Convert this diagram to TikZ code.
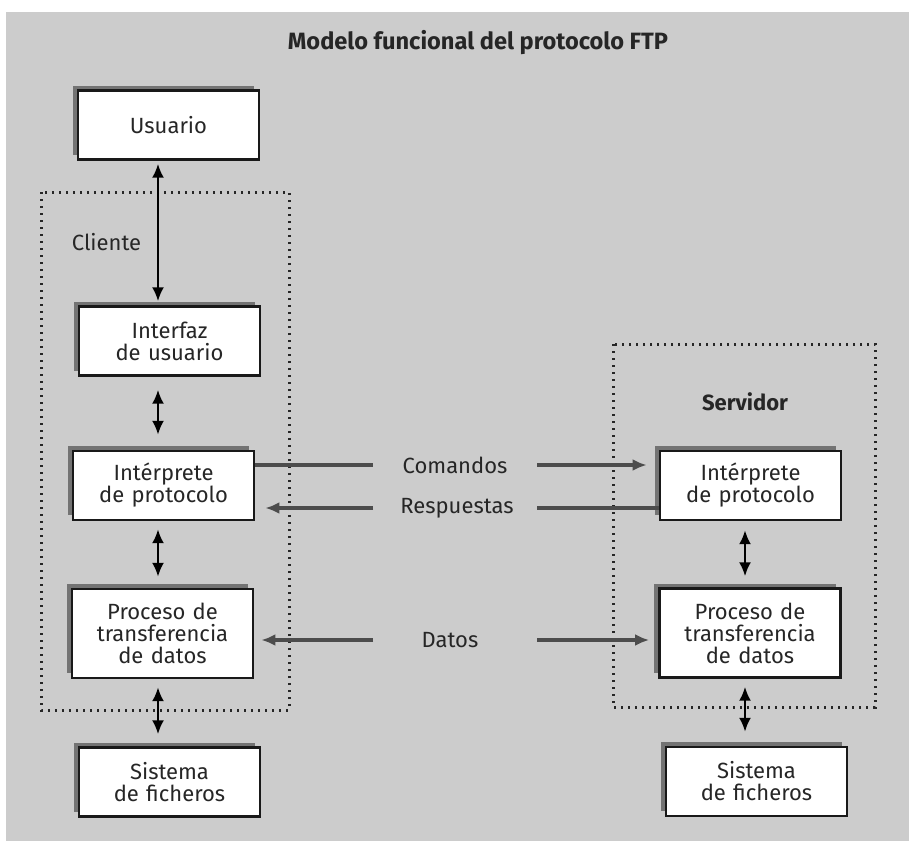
\documentclass[tikz,border=0pt]{standalone}
\usepackage{fontspec}
\setmainfont{Fira Sans}
\usetikzlibrary{arrows.meta, shadows}
\definecolor{bggray}{gray}{0.80}
\definecolor{inkgray}{gray}{0.15}
\definecolor{linkgray}{gray}{0.30}
\tikzset{
  box/.style={rectangle, draw=black!90, fill=white, line width=1.2pt,
              minimum width=90pt, minimum height=34.5pt, text width=84pt,
              align=center, font=\fontsize{11}{11}\selectfont, text=inkgray,
              drop shadow={shadow xshift=-2.5pt, shadow yshift=2.5pt,
                           fill=black!55, opacity=1}},
  tallbox/.style={box, minimum height=44.5pt},
  group/.style={draw=black!85, line width=1.5pt, dash pattern=on 1.2pt off 2.3pt},
  darrow/.style={{Latex[length=7pt,width=6pt]}-{Latex[length=7pt,width=6pt]},
                 draw=black, line width=1.2pt},
  link/.style={draw=linkgray, line width=1.6pt},
  tip/.style={-{Latex[length=7pt,width=6pt]}},
  label/.style={font=\fontsize{11}{12}\selectfont, text=inkgray, inner sep=0pt},
}

\begin{document}
\begin{tikzpicture}[x=0.5pt, y=-0.5pt]
  \useasboundingbox (0,0) rectangle (909,841);
  \fill[bggray] (6,12) rectangle (909,841);

  % Groups
  \draw[group] (41,192) rectangle (289,710);
  \draw[group] (613,344) rectangle (875,707);

  % Labels
  \node[label, font=\fontsize{11.8}{12}\bfseries] (title) at (478,43) {Modelo funcional del protocolo FTP};
  \node[label] (cliente) at (106.5,242) {Cliente};
  \node[label, font=\fontsize{11}{12}\bfseries] (servidor) at (745,402) {Servidor};

  % Nodes
  \node[box] (usuario) at (168.5,125) {Usuario};
  \node[box] (interfaz) at (169.5,341) {Interfaz\\de usuario};
  \node[box] (interpC) at (163.5,485.5) {Intérprete\\de protocolo};
  \node[tallbox] (procC) at (162.5,633.5) {Proceso de\\transferencia\\de datos};
  \node[box] (sistC) at (169.5,782) {Sistema\\de ficheros};

  \node[box] (interpS) at (750.5,485.5) {Intérprete\\de protocolo};
  \node[tallbox] (procS) at (750,633) {Proceso de\\transferencia\\de datos};
  \node[box] (sistS) at (756.5,781.5) {Sistema\\de ficheros};

  \node[label] (comandos) at (455,465) {Comandos};
  \node[label] (respuestas) at (457,508) {Respuestas};
  \node[label] (datos) at (450,640) {Datos};

  % Columns for the vertical arrows and the gaps round the middle texts
  \coordinate (lx) at (158,0);
  \coordinate (rx) at (745,0);
  \coordinate (gapL) at (373,0);
  \coordinate (gapR) at (537,0);

  % Edges (client side)
  \draw[darrow, shorten <=1.5pt, shorten >=2pt] (usuario.south -| lx) -- (interfaz.north -| lx);
  \draw[darrow, shorten <=6.5pt, shorten >=7.5pt] (interfaz.south -| lx) -- (interpC.north -| lx);
  \draw[darrow, shorten <=4pt, shorten >=5.5pt] (interpC.south -| lx) -- (procC.north -| lx);
  \draw[darrow, shorten <=4pt, shorten >=6pt] (procC.south -| lx) -- (sistC.north -| lx);

  % Edges (server side)
  \draw[darrow, shorten <=4.5pt, shorten >=5.5pt] (interpS.south -| rx) -- (procS.north -| rx);
  \draw[darrow, shorten <=4pt, shorten >=7pt] (procS.south -| rx) -- (sistS.north -| rx);

  % Edges between client and server
  \draw[link] (comandos -| interpC.east) -- (comandos -| gapL);
  \draw[link, tip, shorten >=6pt] (comandos -| gapR) -- (comandos -| interpS.west);
  \draw[link] (respuestas -| interpS.west) -- (respuestas -| gapR);
  \draw[link, tip, shorten >=5pt] (respuestas -| gapL) -- (respuestas -| interpC.east);
  \draw[link, tip, shorten >=3.5pt] (datos -| gapL) -- (datos -| procC.east);
  \draw[link, tip, shorten >=4.5pt] (datos -| gapR) -- (datos -| procS.west);

\end{tikzpicture}
\end{document}
